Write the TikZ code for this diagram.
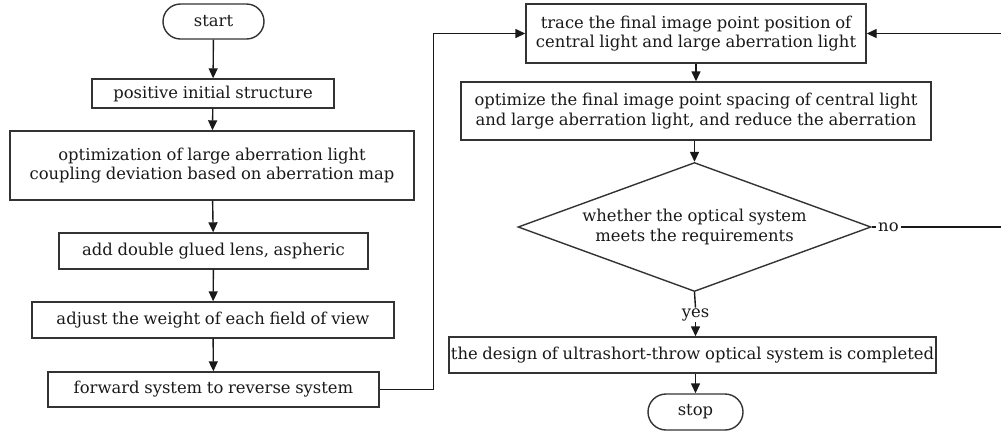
\documentclass[tikz,border=0pt]{standalone}
\usepackage{fontspec}
\setmainfont{DejaVu Serif}[WordSpace=0.9]
\usetikzlibrary{arrows.meta,shapes.geometric,shapes.misc,calc}
\begin{document}
\begin{tikzpicture}[x=1pt,y=-1pt,
  every node/.style={font=\fontsize{16.4}{19.5}\selectfont, text=black!90},
  box/.style={draw=black!80, line width=1.4pt, rectangle, inner sep=0pt, align=center},
  term/.style={draw=black!80, line width=1.4pt, rounded rectangle, inner sep=0pt},
  dec/.style={draw=black!80, line width=1.4pt, diamond, inner sep=0pt, align=center},
  conn/.style={draw=black!90, line width=1.4pt, -{Triangle[length=10pt,width=9pt]}},
  line/.style={draw=black!90, line width=1.4pt}]
\useasboundingbox (0,0) rectangle (1001,432);
% left column
\node[term, minimum width=101pt, minimum height=35pt] (start) at (213.5,21.5) {start};
\node[box, minimum width=242pt, minimum height=29pt] (pos) at (213,93.5) {positive initial structure};
\node[box, minimum width=404pt, minimum height=69pt] (opt) at (212,165.5) {optimization of large aberration light\\coupling deviation based on aberration map};
\node[box, minimum width=309pt, minimum height=36pt] (add) at (213.5,251) {add double glued lens, aspheric};
\node[box, minimum width=362pt, minimum height=36pt] (adj) at (213,320) {adjust the weight of each field of view};
\node[box, minimum width=331pt, minimum height=35pt] (fwd) at (213.5,389.5) {forward system to reverse system};
% right column
\node[box, minimum width=340pt, minimum height=59pt] (trace) at (696,33.5) {trace the final image point position of\\central light and large aberration light};
\node[box, minimum width=470pt, minimum height=58pt] (optim) at (696,111) {optimize the final image point spacing of central light\\and large aberration light, and reduce the aberration};
\node[dec, minimum width=353pt, minimum height=129pt] (dia) at (694.5,227) {};
\node[align=center] (diatext) at (694.5,227) {whether the optical system\\meets the requirements};
\node[box, minimum width=487pt, minimum height=36pt] (done) at (692.5,355) {the design of ultrashort-throw optical system is completed};
\node[term, minimum width=95pt, minimum height=36pt] (stop) at (695.5,412) {stop};
% connectors
\draw[conn] (start) -- (pos);
\draw[conn] (pos) -- (opt);
\draw[conn] (opt) -- (add);
\draw[conn] (add) -- (adj);
\draw[conn] (adj) -- (fwd);
\coordinate (lc) at (433.5,33.5);
\draw[conn] (fwd.east) -- (fwd.east -| lc) -- (lc) -- (trace.west);
\draw[conn] (trace) -- (optim);
\draw[conn] (optim.south -| dia.north) -- (dia.north);
\node[inner sep=1pt] (yes) at (695.5,315) {yes};
\draw[line] (dia.south) -- (yes.north);
\draw[conn] (yes.south) -- (yes.south |- done.north);
\draw[conn] (done.south -| stop.north) -- (stop.north);
\node[inner sep=2pt, anchor=west] (no) at (876,227) {no};
\coordinate (rc) at (1002,227);
\draw[line] (dia.east) -- (no.west);
\draw[conn] (no.east) -- (rc) -- (rc |- trace.east) -- (trace.east);
\end{tikzpicture}
\end{document}
